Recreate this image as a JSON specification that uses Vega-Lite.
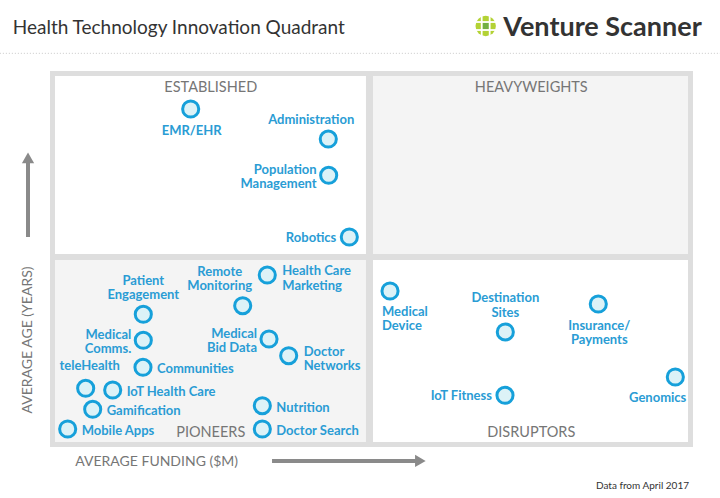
{
  "$schema": "https://vega.github.io/schema/vega-lite/v6.json",
  "width": 643,
  "height": 376,
  "autosize": {"type": "none"},
  "padding": {"left": 50, "top": 71, "right": 27, "bottom": 51},
  "background": "white",
  "config": {"view": {"stroke": null}, "font": "Lato"},
  "datasets": {
    "quads": [
      {"zone": "frame", "x": 0, "x2": 100, "y": 0, "y2": 100},
      {"zone": "white", "x": 0.78, "x2": 49.14, "y": 51.33, "y2": 98.67},
      {"zone": "grey", "x": 50.23, "x2": 99.22, "y": 51.33, "y2": 98.67},
      {"zone": "grey", "x": 0.78, "x2": 49.14, "y": 1.33, "y2": 49.73},
      {"zone": "white", "x": 50.23, "x2": 99.22, "y": 1.33, "y2": 49.73}
    ],
    "sectors": [
      {"name": "EMR/EHR", "label": "EMR/EHR", "x": 21.88, "y": 89.89, "pos": "below"},
      {"name": "Administration", "label": "Administration", "x": 43.28, "y": 81.91, "pos": "aboveright"},
      {"name": "Population Management", "label": "Population\nManagement", "x": 43.34, "y": 72.26, "pos": "left2"},
      {"name": "Robotics", "label": "Robotics", "x": 46.55, "y": 55.85, "pos": "left"},
      {"name": "Health Care Marketing", "label": "Health Care\nMarketing", "x": 33.79, "y": 45.74, "pos": "right2"},
      {"name": "Remote Monitoring", "label": "Remote\nMonitoring", "x": 29.97, "y": 37.58, "pos": "aboveleft2"},
      {"name": "Patient Engagement", "label": "Patient\nEngagement", "x": 14.51, "y": 35.29, "pos": "above2"},
      {"name": "Medical Comms.", "label": "Medical\nComms.", "x": 14.51, "y": 28.38, "pos": "left2"},
      {"name": "Communities", "label": "Communities", "x": 14.46, "y": 21.2, "pos": "right"},
      {"name": "teleHealth", "label": "teleHealth", "x": 5.55, "y": 15.61, "pos": "above"},
      {"name": "IoT Health Care", "label": "IoT Health Care", "x": 9.75, "y": 15.16, "pos": "right"},
      {"name": "Gamification", "label": "Gamification", "x": 6.64, "y": 10.03, "pos": "right"},
      {"name": "Mobile Apps", "label": "Mobile Apps", "x": 2.75, "y": 4.79, "pos": "right"},
      {"name": "Medical Bid Data", "label": "Medical\nBid Data", "x": 34.06, "y": 28.72, "pos": "left2"},
      {"name": "Doctor Networks", "label": "Doctor\nNetworks", "x": 37.12, "y": 24.28, "pos": "right2"},
      {"name": "Nutrition", "label": "Nutrition", "x": 33.02, "y": 10.98, "pos": "right"},
      {"name": "Doctor Search", "label": "Doctor Search", "x": 33.02, "y": 4.79, "pos": "right"},
      {"name": "Medical Device", "label": "Medical\nDevice", "x": 52.88, "y": 41.49, "pos": "belowleft"},
      {"name": "Destination Sites", "label": "Destination\nSites", "x": 70.81, "y": 30.59, "pos": "above2"},
      {"name": "Insurance/Payments", "label": "Insurance/\nPayments", "x": 85.27, "y": 38.03, "pos": "below"},
      {"name": "IoT Fitness", "label": "IoT Fitness", "x": 70.76, "y": 13.75, "pos": "left"},
      {"name": "Genomics", "label": "Genomics", "x": 97.25, "y": 18.62, "pos": "belowright"}
    ],
    "quadnames": [
      {"label": "ESTABLISHED", "x": 25.0, "y": 95.4},
      {"label": "HEAVYWEIGHTS", "x": 74.85, "y": 95.4},
      {"label": "PIONEERS", "x": 25.0, "y": 3.8},
      {"label": "DISRUPTORS", "x": 74.85, "y": 3.8}
    ]
  },
  "layer": [
    {
      "data": {"name": "quads"},
      "mark": {"type": "rect"},
      "encoding": {
        "x": {"field": "x", "type": "quantitative", "scale": {"domain": [0, 100]}, "axis": null},
        "x2": {"field": "x2"},
        "y": {"field": "y", "type": "quantitative", "scale": {"domain": [0, 100]}, "axis": null},
        "y2": {"field": "y2"},
        "color": {"field": "zone", "type": "nominal", "scale": {"domain": ["frame", "white", "grey"], "range": ["#dedede", "#ffffff", "#f4f4f4"]}, "legend": null}
      }
    },
    {
      "data": {"values": [{"x": -7.8, "x2": 104.2, "y": 104.7}]},
      "mark": {"type": "rule", "stroke": "#c8c8c8", "strokeWidth": 1, "strokeDash": [1, 2]},
      "encoding": {
        "x": {"field": "x", "type": "quantitative", "scale": {"domain": [0, 100]}, "axis": null},
        "x2": {"field": "x2"},
        "y": {"field": "y", "type": "quantitative", "scale": {"domain": [0, 100]}, "axis": null}
      }
    },
    {
      "data": {"values": [{"x": -3.42, "y": 55.85, "x2": -3.42, "y2": 75.6}, {"x": 34.53, "y": -3.72, "x2": 56.9, "y2": -3.72}]},
      "mark": {"type": "rule", "stroke": "#8a8a8a", "strokeWidth": 4},
      "encoding": {
        "x": {"field": "x", "type": "quantitative", "scale": {"domain": [0, 100]}, "axis": null},
        "x2": {"field": "x2"},
        "y": {"field": "y", "type": "quantitative", "scale": {"domain": [0, 100]}, "axis": null},
        "y2": {"field": "y2"}
      }
    },
    {
      "data": {"values": [{"x": -3.42, "y": 76.9, "dir": "up"}, {"x": 57.6, "y": -3.72, "dir": "right"}]},
      "mark": {"type": "point", "filled": true, "size": 150, "color": "#8a8a8a", "opacity": 1},
      "encoding": {
        "x": {"field": "x", "type": "quantitative", "scale": {"domain": [0, 100]}, "axis": null},
        "y": {"field": "y", "type": "quantitative", "scale": {"domain": [0, 100]}, "axis": null},
        "shape": {"field": "dir", "type": "nominal", "scale": {"domain": ["up", "right"], "range": ["triangle-up", "triangle-right"]}, "legend": null}
      }
    },
    {
      "data": {"values": [{"x": 67.76, "y": 111.97}]},
      "mark": {"type": "circle", "size": 415, "color": "#b3d234", "opacity": 1},
      "encoding": {
        "x": {"field": "x", "type": "quantitative", "scale": {"domain": [0, 100]}, "axis": null},
        "y": {"field": "y", "type": "quantitative", "scale": {"domain": [0, 100]}, "axis": null}
      }
    },
    {
      "data": {"values": [{"x": 67.76, "y": 111.97}]},
      "mark": {"type": "square", "size": 40, "color": "#72b043", "opacity": 1},
      "encoding": {
        "x": {"field": "x", "type": "quantitative", "scale": {"domain": [0, 100]}, "axis": null},
        "y": {"field": "y", "type": "quantitative", "scale": {"domain": [0, 100]}, "axis": null}
      }
    },
    {
      "data": {"values": [
        {"x": 67.14, "x2": 67.14, "y": 109.18, "y2": 114.76},
        {"x": 68.38, "x2": 68.38, "y": 109.18, "y2": 114.76},
        {"x": 66.13, "x2": 69.39, "y": 113.03, "y2": 113.03},
        {"x": 66.13, "x2": 69.39, "y": 110.9, "y2": 110.9}
      ]},
      "mark": {"type": "rule", "stroke": "#ffffff", "strokeWidth": 1.8},
      "encoding": {
        "x": {"field": "x", "type": "quantitative", "scale": {"domain": [0, 100]}, "axis": null},
        "x2": {"field": "x2"},
        "y": {"field": "y", "type": "quantitative", "scale": {"domain": [0, 100]}, "axis": null},
        "y2": {"field": "y2"}
      }
    },
    {
      "data": {"name": "sectors"},
      "mark": {"type": "circle", "size": 260, "fill": "#dcf2f7", "stroke": "#16a0da", "strokeWidth": 3, "opacity": 1},
      "encoding": {
        "x": {"field": "x", "type": "quantitative", "scale": {"domain": [0, 100]}, "axis": null},
        "y": {"field": "y", "type": "quantitative", "scale": {"domain": [0, 100]}, "axis": null},
        "tooltip": {"field": "name"}
      }
    },
    {
      "data": {"name": "sectors"},
      "transform": [{"filter": "datum.pos == 'right'"}],
      "mark": {"type": "text", "align": "left", "baseline": "middle", "dx": 14, "dy": 2, "lineBreak": "\n", "lineHeight": 14.5, "font": "Lato", "fontSize": 13, "fontWeight": "bold", "color": "#2a9cd4"},
      "encoding": {
        "x": {"field": "x", "type": "quantitative", "scale": {"domain": [0, 100]}, "axis": null},
        "y": {"field": "y", "type": "quantitative", "scale": {"domain": [0, 100]}, "axis": null},
        "text": {"field": "label"}
      }
    },
    {
      "data": {"name": "sectors"},
      "transform": [{"filter": "datum.pos == 'right2'"}],
      "mark": {"type": "text", "align": "left", "baseline": "middle", "dx": 15, "dy": -4, "lineBreak": "\n", "lineHeight": 14.5, "font": "Lato", "fontSize": 13, "fontWeight": "bold", "color": "#2a9cd4"},
      "encoding": {
        "x": {"field": "x", "type": "quantitative", "scale": {"domain": [0, 100]}, "axis": null},
        "y": {"field": "y", "type": "quantitative", "scale": {"domain": [0, 100]}, "axis": null},
        "text": {"field": "label"}
      }
    },
    {
      "data": {"name": "sectors"},
      "transform": [{"filter": "datum.pos == 'left'"}],
      "mark": {"type": "text", "align": "right", "baseline": "middle", "dx": -13, "dy": 1, "lineBreak": "\n", "lineHeight": 14.5, "font": "Lato", "fontSize": 13, "fontWeight": "bold", "color": "#2a9cd4"},
      "encoding": {
        "x": {"field": "x", "type": "quantitative", "scale": {"domain": [0, 100]}, "axis": null},
        "y": {"field": "y", "type": "quantitative", "scale": {"domain": [0, 100]}, "axis": null},
        "text": {"field": "label"}
      }
    },
    {
      "data": {"name": "sectors"},
      "transform": [{"filter": "datum.pos == 'left2'"}],
      "mark": {"type": "text", "align": "right", "baseline": "middle", "dx": -12, "dy": -5.5, "lineBreak": "\n", "lineHeight": 14.5, "font": "Lato", "fontSize": 13, "fontWeight": "bold", "color": "#2a9cd4"},
      "encoding": {
        "x": {"field": "x", "type": "quantitative", "scale": {"domain": [0, 100]}, "axis": null},
        "y": {"field": "y", "type": "quantitative", "scale": {"domain": [0, 100]}, "axis": null},
        "text": {"field": "label"}
      }
    },
    {
      "data": {"name": "sectors"},
      "transform": [{"filter": "datum.pos == 'above'"}],
      "mark": {"type": "text", "align": "center", "baseline": "middle", "dx": 4, "dy": -22.3, "lineBreak": "\n", "lineHeight": 14.5, "font": "Lato", "fontSize": 13, "fontWeight": "bold", "color": "#2a9cd4"},
      "encoding": {
        "x": {"field": "x", "type": "quantitative", "scale": {"domain": [0, 100]}, "axis": null},
        "y": {"field": "y", "type": "quantitative", "scale": {"domain": [0, 100]}, "axis": null},
        "text": {"field": "label"}
      }
    },
    {
      "data": {"name": "sectors"},
      "transform": [{"filter": "datum.pos == 'above2'"}],
      "mark": {"type": "text", "align": "center", "baseline": "middle", "dx": 0, "dy": -33.5, "lineBreak": "\n", "lineHeight": 14.5, "font": "Lato", "fontSize": 13, "fontWeight": "bold", "color": "#2a9cd4"},
      "encoding": {
        "x": {"field": "x", "type": "quantitative", "scale": {"domain": [0, 100]}, "axis": null},
        "y": {"field": "y", "type": "quantitative", "scale": {"domain": [0, 100]}, "axis": null},
        "text": {"field": "label"}
      }
    },
    {
      "data": {"name": "sectors"},
      "transform": [{"filter": "datum.pos == 'aboveleft2'"}],
      "mark": {"type": "text", "align": "center", "baseline": "middle", "dx": -23, "dy": -34, "lineBreak": "\n", "lineHeight": 14.5, "font": "Lato", "fontSize": 13, "fontWeight": "bold", "color": "#2a9cd4"},
      "encoding": {
        "x": {"field": "x", "type": "quantitative", "scale": {"domain": [0, 100]}, "axis": null},
        "y": {"field": "y", "type": "quantitative", "scale": {"domain": [0, 100]}, "axis": null},
        "text": {"field": "label"}
      }
    },
    {
      "data": {"name": "sectors"},
      "transform": [{"filter": "datum.pos == 'aboveright'"}],
      "mark": {"type": "text", "align": "right", "baseline": "middle", "dx": 26, "dy": -19.3, "lineBreak": "\n", "lineHeight": 14.5, "font": "Lato", "fontSize": 13, "fontWeight": "bold", "color": "#2a9cd4"},
      "encoding": {
        "x": {"field": "x", "type": "quantitative", "scale": {"domain": [0, 100]}, "axis": null},
        "y": {"field": "y", "type": "quantitative", "scale": {"domain": [0, 100]}, "axis": null},
        "text": {"field": "label"}
      }
    },
    {
      "data": {"name": "sectors"},
      "transform": [{"filter": "datum.pos == 'below'"}],
      "mark": {"type": "text", "align": "center", "baseline": "top", "dx": 1, "dy": 15.5, "lineBreak": "\n", "lineHeight": 14.5, "font": "Lato", "fontSize": 13, "fontWeight": "bold", "color": "#2a9cd4"},
      "encoding": {
        "x": {"field": "x", "type": "quantitative", "scale": {"domain": [0, 100]}, "axis": null},
        "y": {"field": "y", "type": "quantitative", "scale": {"domain": [0, 100]}, "axis": null},
        "text": {"field": "label"}
      }
    },
    {
      "data": {"name": "sectors"},
      "transform": [{"filter": "datum.pos == 'belowleft'"}],
      "mark": {"type": "text", "align": "left", "baseline": "top", "dx": -8, "dy": 15, "lineBreak": "\n", "lineHeight": 14.5, "font": "Lato", "fontSize": 13, "fontWeight": "bold", "color": "#2a9cd4"},
      "encoding": {
        "x": {"field": "x", "type": "quantitative", "scale": {"domain": [0, 100]}, "axis": null},
        "y": {"field": "y", "type": "quantitative", "scale": {"domain": [0, 100]}, "axis": null},
        "text": {"field": "label"}
      }
    },
    {
      "data": {"name": "sectors"},
      "transform": [{"filter": "datum.pos == 'belowright'"}],
      "mark": {"type": "text", "align": "right", "baseline": "top", "dx": 11, "dy": 15, "lineBreak": "\n", "lineHeight": 14.5, "font": "Lato", "fontSize": 13, "fontWeight": "bold", "color": "#2a9cd4"},
      "encoding": {
        "x": {"field": "x", "type": "quantitative", "scale": {"domain": [0, 100]}, "axis": null},
        "y": {"field": "y", "type": "quantitative", "scale": {"domain": [0, 100]}, "axis": null},
        "text": {"field": "label"}
      }
    },
    {
      "data": {"name": "quadnames"},
      "mark": {"type": "text", "align": "center", "baseline": "middle", "font": "Lato", "fontSize": 14.5, "color": "#767676"},
      "encoding": {
        "x": {"field": "x", "type": "quantitative", "scale": {"domain": [0, 100]}, "axis": null},
        "y": {"field": "y", "type": "quantitative", "scale": {"domain": [0, 100]}, "axis": null},
        "text": {"field": "label"}
      }
    },
    {
      "data": {"values": [{"label": "Health Technology Innovation Quadrant", "x": -5.8, "y": 111.36}]},
      "mark": {"type": "text", "align": "left", "baseline": "middle", "font": "Lato", "fontSize": 19, "color": "#333333"},
      "encoding": {
        "x": {"field": "x", "type": "quantitative", "scale": {"domain": [0, 100]}, "axis": null},
        "y": {"field": "y", "type": "quantitative", "scale": {"domain": [0, 100]}, "axis": null},
        "text": {"field": "label"}
      }
    },
    {
      "data": {"values": [{"label": "Venture Scanner", "x": 70.5, "y": 111.4}]},
      "mark": {"type": "text", "align": "left", "baseline": "middle", "font": "Lato", "fontSize": 27, "fontWeight": "bold", "color": "#333333"},
      "encoding": {
        "x": {"field": "x", "type": "quantitative", "scale": {"domain": [0, 100]}, "axis": null},
        "y": {"field": "y", "type": "quantitative", "scale": {"domain": [0, 100]}, "axis": null},
        "text": {"field": "label"}
      }
    },
    {
      "data": {"values": [{"label": "AVERAGE FUNDING ($M)", "x": 16.59, "y": -3.9}]},
      "mark": {"type": "text", "align": "center", "baseline": "middle", "font": "Lato", "fontSize": 14, "color": "#767676"},
      "encoding": {
        "x": {"field": "x", "type": "quantitative", "scale": {"domain": [0, 100]}, "axis": null},
        "y": {"field": "y", "type": "quantitative", "scale": {"domain": [0, 100]}, "axis": null},
        "text": {"field": "label"}
      }
    },
    {
      "data": {"values": [{"label": "AVERAGE AGE (YEARS)", "x": -3.42, "y": 28.46}]},
      "mark": {"type": "text", "align": "center", "baseline": "middle", "angle": 270, "font": "Lato", "fontSize": 14, "color": "#767676"},
      "encoding": {
        "x": {"field": "x", "type": "quantitative", "scale": {"domain": [0, 100]}, "axis": null},
        "y": {"field": "y", "type": "quantitative", "scale": {"domain": [0, 100]}, "axis": null},
        "text": {"field": "label"}
      }
    },
    {
      "data": {"values": [{"label": "Data from April 2017", "x": 99.38, "y": -10.37}]},
      "mark": {"type": "text", "align": "right", "baseline": "middle", "font": "Lato", "fontSize": 10, "color": "#333333"},
      "encoding": {
        "x": {"field": "x", "type": "quantitative", "scale": {"domain": [0, 100]}, "axis": null},
        "y": {"field": "y", "type": "quantitative", "scale": {"domain": [0, 100]}, "axis": null},
        "text": {"field": "label"}
      }
    }
  ]
}
